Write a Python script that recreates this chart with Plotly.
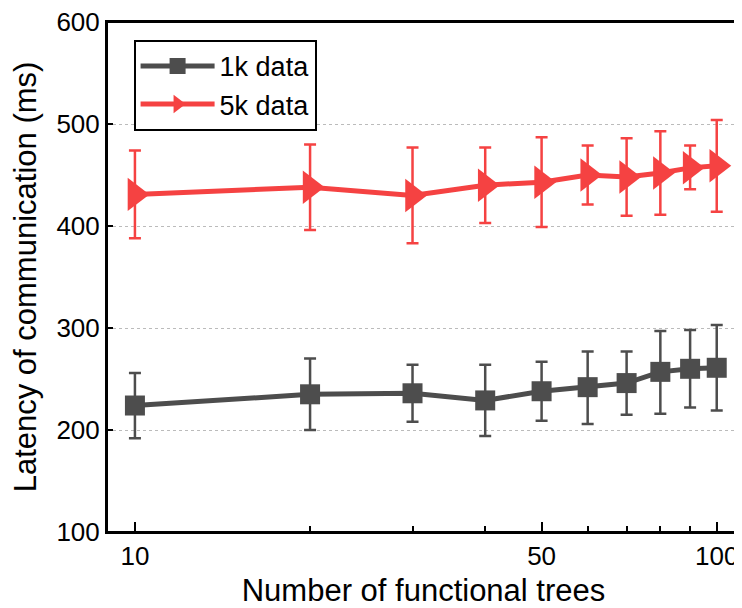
import plotly.graph_objects as go

trees = [10, 20, 30, 40, 50, 60, 70, 80, 90, 100]

lat_1k = [224, 235, 236, 229, 238, 242, 246, 257, 260, 261]
err_1k_up = [32, 35, 28, 35, 29, 35, 31, 40, 38, 42]
err_1k_down = [32, 35, 28, 35, 29, 36, 31, 41, 38, 42]

lat_5k = [431, 438, 430, 440, 443, 450, 448, 452, 457, 459]
err_5k_up = [43, 42, 47, 37, 44, 29, 38, 41, 22, 45]
err_5k_down = [43, 42, 47, 37, 44, 29, 38, 41, 21, 45]

x_tickvals = [10, 50, 100]
y_tickvals = [100, 200, 300, 400, 500, 600]

C1 = "#4d4d4d"
C2 = "#f54242"
FONT = "Liberation Sans, Arial, sans-serif"

fig = go.Figure()
fig.add_trace(go.Scatter(
    x=trees, y=lat_1k, mode="lines+markers", name="1k data",
    line=dict(color=C1, width=5),
    marker=dict(symbol="square", size=20, color=C1),
    error_y=dict(type="data", symmetric=False, array=err_1k_up, arrayminus=err_1k_down,
                 color=C1, thickness=2.5, width=6),
))
fig.add_trace(go.Scatter(
    x=trees, y=lat_5k, mode="lines+markers", name="5k data",
    line=dict(color=C2, width=5),
    marker=dict(symbol="triangle-right", size=29, color=C2),
    error_y=dict(type="data", symmetric=False, array=err_5k_up, arrayminus=err_5k_down,
                 color=C2, thickness=2.5, width=6),
))

# page body has an 8px margin, so the figure is offset by 8px in the window
fig.update_layout(
    width=734, height=600,
    margin=dict(l=99, r=2, t=14, b=76),
    paper_bgcolor="white", plot_bgcolor="white",
    font=dict(family=FONT, size=26, color="black"),
    showlegend=True,
    legend=dict(
        x=0.042, y=0.965, xanchor="left", yanchor="top",
        bordercolor="black", borderwidth=2, bgcolor="white",
        font=dict(size=27), itemwidth=74, tracegroupgap=0,
    ),
    shapes=[dict(type="rect", xref="paper", yref="paper", x0=0, x1=1, y0=0, y1=1,
                 line=dict(color="black", width=2), fillcolor="rgba(0,0,0,0)", layer="above")],
)
fig.update_xaxes(
    type="log", range=[0.952, 2.040], automargin=False,
    tickvals=x_tickvals, ticktext=[str(v) for v in x_tickvals],
    ticks="inside", ticklen=10, tickwidth=2, tickcolor="black",
    minor=dict(tickvals=[20, 30, 40, 60, 70, 80, 90], ticks="inside", ticklen=6,
               tickwidth=1.5, tickcolor="black", showgrid=False),
    showline=True, linecolor="black", linewidth=2, mirror=True,
    showgrid=False, zeroline=False, ticklabeloverflow="allow",
    title=dict(text="Number of functional trees", font=dict(size=31), standoff=18),
    tickfont=dict(size=26),
)
fig.update_yaxes(
    range=[100, 600], tickvals=y_tickvals, automargin=False,
    ticks="inside", ticklen=6, tickwidth=2, tickcolor="black",
    showline=True, linecolor="black", linewidth=2, mirror=True,
    showgrid=True, gridcolor="#bbbbbb", griddash="dot", gridwidth=1,
    zeroline=False, ticklabeloverflow="allow",
    title=dict(text="Latency of communication (ms)", font=dict(size=31)),
    tickfont=dict(size=26),
)

fig.write_html("out.html")
